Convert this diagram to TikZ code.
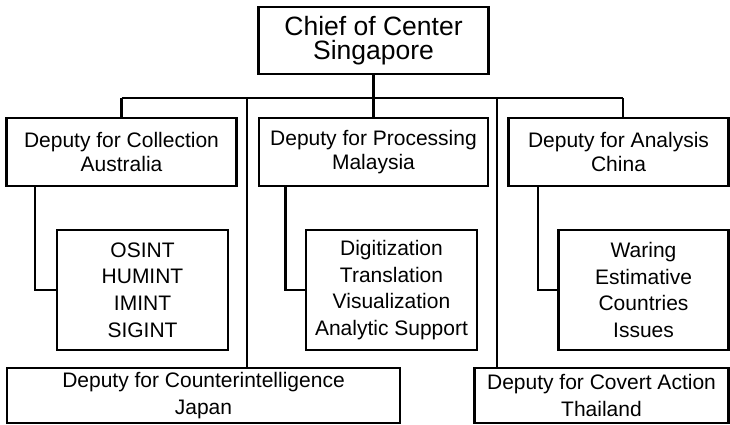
\documentclass[tikz,border=0pt]{standalone}
\usepackage{fontspec}
\setmainfont{Liberation Sans}
\tikzset{
  unit/.style={draw, line width=2.4pt, inner sep=0pt, align=center,
    font=\fontsize{21}{23.5}\selectfont},
  office/.style={draw, line width=2.4pt, inner sep=0pt, align=center,
    font=\fontsize{21}{26.7}\selectfont},
}
\begin{document}
\begin{tikzpicture}[x=1pt,y=-1pt,line width=2.4pt]
		\useasboundingbox (0,0) rectangle (730,424);

		\node [draw, line width=2.4pt, inner sep=0pt, align=center,
		  font=\fontsize{26.5}{24.5}\selectfont,
		  minimum width=230, minimum height=67] (chief) at (373.5,40.5)
		  {Chief of Center\\Singapore};

		\node [unit, minimum width=230, minimum height=68] (coll) at (121.5,152) {Deputy for Collection\\Australia};
		\node [unit, minimum width=229, minimum height=68] (proc) at (373.5,152) {Deputy for Processing\\Malaysia};
		\node [unit, minimum width=220, minimum height=68] (anal) at (618.5,152) {Deputy for Analysis\\China};

		\node [office, minimum width=171, minimum height=120] (osint) at (142.5,290) {OSINT\\HUMINT\\IMINT\\SIGINT};
		\node [office, minimum width=171, minimum height=120] (digit) at (391.5,290) {Digitization\\Translation\\Visualization\\Analytic Support};
		\node [office, minimum width=170, minimum height=120] (waring) at (643.5,290) {Waring\\Estimative\\Countries\\Issues};

		\node [office, minimum width=393, minimum height=55] (counter) at (203.5,395.5) {Deputy for Counterintelligence\\Japan};
		\node [office, minimum width=254, minimum height=55] (covert) at (601.5,395.5) {Deputy for Covert Action\\Thailand};

		\coordinate (barL) at (121.5,98);
		\coordinate (barR) at (623,98);
		\coordinate (ci) at (247,98);
		\coordinate (ca) at (497,98);

		\draw (barL) -- (barR);
		\draw (chief.south) -- (proc.north);
		\draw (barL) -- (coll.north);
		\draw (barR) -- (barR |- anal.north);
		\draw (ci) -- (ci |- counter.north);
		\draw (ca) -- (ca |- covert.north);

		\draw ([xshift=-86.5]coll.south) |- (osint.west);
		\draw ([xshift=-88]proc.south) |- (digit.west);
		\draw ([xshift=-80.5]anal.south) |- (waring.west);
	\end{tikzpicture}
\end{document}
